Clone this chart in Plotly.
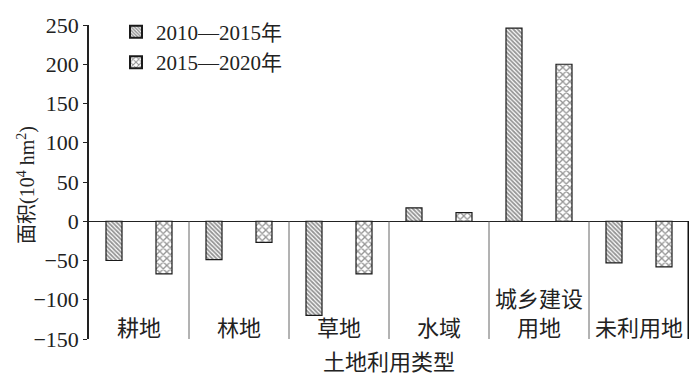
import plotly.graph_objects as go

categories = ["耕地", "林地", "草地", "水域", "城乡建设<br>用地", "未利用地"]
series_names = ["2010—2015年", "2015—2020年"]
values_2010_2015 = [-50, -49, -120, 17, 246, -53]
values_2015_2020 = [-67, -27, -67, 11, 200, -58]
y_ticks = [-150, -100, -50, 0, 50, 100, 150, 200, 250]

FONT = "Liberation Serif, Times New Roman, Noto Sans CJK SC"
idx = list(range(len(categories)))

# page body has an 8px margin; figure is sized/offset to compensate
W, H = 684, 371

fig = go.Figure()
fig.add_trace(go.Bar(
    x=idx, y=values_2010_2015, name=series_names[0],
    marker=dict(color="white", line=dict(color="#1a1a1a", width=1.2),
                pattern=dict(shape="\\", size=3, solidity=0.6, fgcolor="#2a2a2a", bgcolor="white")),
))
fig.add_trace(go.Bar(
    x=idx, y=values_2015_2020, name=series_names[1],
    marker=dict(color="white", line=dict(color="#1a1a1a", width=1.2),
                pattern=dict(shape="x", size=5, solidity=0.45, fgcolor="#2a2a2a", bgcolor="white")),
))

shapes = []
for i in idx:
    last = i == len(categories) - 1
    shapes.append(dict(type="line", xref="x", yref="y", x0=i + 0.5, x1=i + 0.5,
                       y0=y_ticks[0], y1=0,
                       line=dict(color="#111111" if last else "#666666", width=3 if last else 1)))

annotations = []
for i, c in zip(idx, categories):
    annotations.append(dict(x=i, y=y_ticks[0], xref="x", yref="y", text=c, showarrow=False,
                            yanchor="bottom", yshift=-4, font=dict(family=FONT, size=22, color="#222222")))
annotations.append(dict(x=0, y=0.5, xref="paper", yref="paper", xanchor="center", yanchor="middle",
                        xshift=-63, yshift=-3, textangle=-90, showarrow=False,
                        text="面积(10<sup>4</sup> hm<sup>2</sup>)",
                        font=dict(family=FONT, size=20, color="#222222")))

fig.update_layout(
    width=W, height=H,
    margin=dict(l=81, r=3, t=17, b=40, autoexpand=False),
    plot_bgcolor="white", paper_bgcolor="white",
    barmode="group", bargap=0.0, bargroupgap=0.68,
    font=dict(family=FONT, size=21, color="#222222"),
    showlegend=True,
    legend=dict(x=0.045, y=0.99, xref="paper", yref="container", xanchor="left", yanchor="top",
                bgcolor="rgba(0,0,0,0)", font=dict(family=FONT, size=21), tracegroupgap=0,
                itemsizing="constant"),
    shapes=shapes, annotations=annotations,
)
fig.update_xaxes(range=[-0.5, len(categories) - 0.5], showticklabels=False, ticks="",
                 showgrid=False, showline=False, zeroline=False, automargin=False,
                 title=dict(text="土地利用类型", font=dict(family=FONT, size=22), standoff=15))
fig.update_yaxes(range=[y_ticks[0], y_ticks[-1]], tickvals=y_ticks, ticks="outside", ticklen=4,
                 tickcolor="#222222", showline=True, linecolor="#222222", linewidth=1.5,
                 showgrid=False, zeroline=True, zerolinecolor="#222222", zerolinewidth=1.2,
                 tickfont=dict(family=FONT, size=22), automargin=False)

fig.write_html("out.html")
